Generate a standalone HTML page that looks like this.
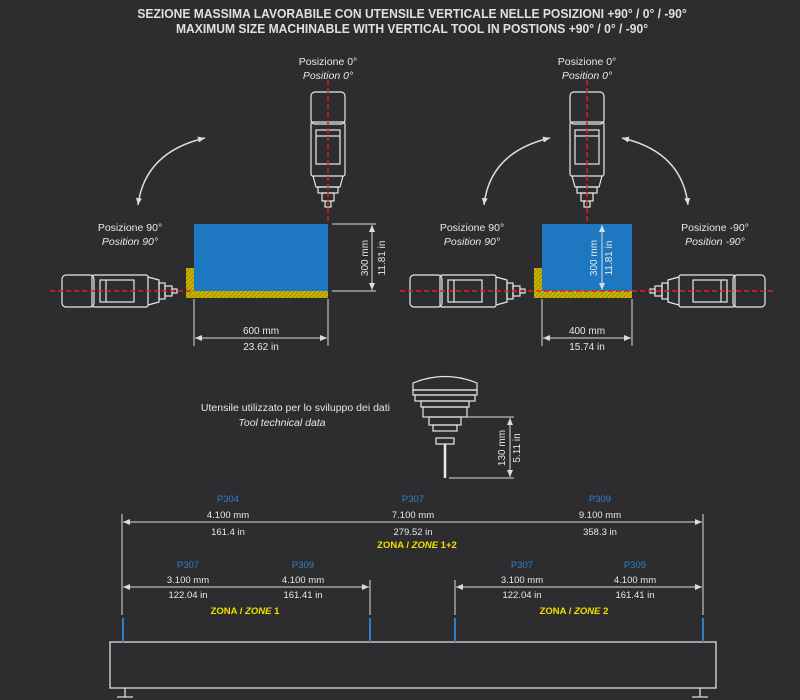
<!DOCTYPE html>
<html><head><meta charset="utf-8"><style>
html,body{margin:0;padding:0;background:#2d2d2f;}
svg{display:block;font-family:"Liberation Sans",sans-serif;}
</style></head><body>
<svg width="800" height="700" viewBox="0 0 800 700">
<defs>
<pattern id="hatch" width="3" height="3" patternUnits="userSpaceOnUse" patternTransform="rotate(45)">
<rect width="3" height="3" fill="#c8b400"/><line x1="0" y1="0" x2="0" y2="3" stroke="#7a6d00" stroke-width="1"/></pattern>
<marker id="ar" markerWidth="8" markerHeight="8" refX="7" refY="4" orient="auto" markerUnits="userSpaceOnUse"><path d="M0,1 L7,4 L0,7z" fill="#ddd"/></marker>
<marker id="al" markerWidth="8" markerHeight="8" refX="1" refY="4" orient="auto" markerUnits="userSpaceOnUse"><path d="M8,1 L1,4 L8,7z" fill="#ddd"/></marker>
<g id="vtool" fill="none" stroke="#e8e8e8" stroke-width="1.2">
<rect x="-17" y="0" width="34" height="32" rx="4"/>
<rect x="-17" y="30" width="34" height="54" rx="2"/>
<rect x="-12" y="38" width="24" height="34"/>
<line x1="-12" y1="44" x2="12" y2="44"/>
<path d="M-15,84 L-12,95 L12,95 L15,84"/>
<rect x="-10" y="95" width="20" height="6"/>
<rect x="-6" y="101" width="12" height="8"/>
<rect x="-3" y="109" width="6" height="6"/>
</g>
<g id="htool" fill="none" stroke="#e8e8e8" stroke-width="1.2">
<rect x="0" y="-16" width="32" height="32" rx="4"/>
<rect x="30" y="-16" width="56" height="32" rx="2"/>
<rect x="38" y="-11" width="34" height="22"/>
<line x1="44" y1="-11" x2="44" y2="11"/>
<path d="M86,-14 L97,-11 L97,11 L86,14"/>
<rect x="97" y="-8" width="6" height="16"/>
<rect x="103" y="-5" width="7" height="10"/>
<rect x="110" y="-2" width="5" height="4"/>
</g>
</defs>

<g fill="#e0e0e0" font-size="13" font-weight="bold" text-anchor="middle" transform="translate(412,0) scale(0.93,1)">
<text x="0" y="18">SEZIONE MASSIMA LAVORABILE CON UTENSILE VERTICALE NELLE POSIZIONI +90° / 0° / -90°</text>
<text x="0" y="33">MAXIMUM SIZE MACHINABLE WITH VERTICAL TOOL IN POSTIONS +90° / 0° / -90°</text>
</g>

<!-- LEFT DIAGRAM -->
<g font-size="10.5" fill="#e8e8e8" text-anchor="middle">
<text x="328" y="65">Posizione 0°</text><text x="328" y="79" font-style="italic">Position 0°</text>
<text x="130" y="231">Posizione 90°</text><text x="130" y="245" font-style="italic">Position 90°</text>
</g>
<path d="M138,205 Q145,152 205,138" fill="none" stroke="#ddd" stroke-width="1.5" marker-end="url(#ar)" marker-start="url(#al)"/>
<rect x="194" y="224" width="134" height="67" fill="#1d78c1"/>
<rect x="194" y="291" width="134" height="7" fill="url(#hatch)"/>
<rect x="186" y="268" width="8" height="30" fill="url(#hatch)"/>
<use href="#vtool" x="328" y="92"/>
<use href="#htool" x="62" y="291"/>
<line x1="328" y1="80" x2="328" y2="224" stroke="#e02020" stroke-width="1.5" stroke-dasharray="5,3"/>
<line x1="50" y1="291" x2="194" y2="291" stroke="#e02020" stroke-width="1.5" stroke-dasharray="5,3"/>
<g stroke="#ddd" stroke-width="1" fill="none">
<line x1="332" y1="224" x2="376" y2="224"/><line x1="332" y1="291" x2="376" y2="291"/>
<line x1="372" y1="225" x2="372" y2="290" marker-start="url(#al)" marker-end="url(#ar)"/>
<line x1="194" y1="299" x2="194" y2="346"/><line x1="328" y1="299" x2="328" y2="346"/>
<line x1="195" y1="338" x2="327" y2="338" marker-start="url(#al)" marker-end="url(#ar)"/>
</g>
<g font-size="10" fill="#e8e8e8" text-anchor="middle">
<text transform="translate(368,258) rotate(-90)">300 mm</text>
<text transform="translate(385,258) rotate(-90)">11.81 in</text>
<text x="261" y="334">600 mm</text><text x="261" y="350">23.62 in</text>
</g>

<!-- RIGHT DIAGRAM -->
<g font-size="10.5" fill="#e8e8e8" text-anchor="middle">
<text x="587" y="65">Posizione 0°</text><text x="587" y="79" font-style="italic">Position 0°</text>
<text x="472" y="231">Posizione 90°</text><text x="472" y="245" font-style="italic">Position 90°</text>
<text x="715" y="231">Posizione -90°</text><text x="715" y="245" font-style="italic">Position -90°</text>
</g>
<path d="M484,205 Q490,152 550,138" fill="none" stroke="#ddd" stroke-width="1.5" marker-end="url(#ar)" marker-start="url(#al)"/>
<path d="M622,138 Q682,152 688,205" fill="none" stroke="#ddd" stroke-width="1.5" marker-end="url(#ar)" marker-start="url(#al)"/>
<rect x="542" y="224" width="90" height="67" fill="#1d78c1"/>
<rect x="542" y="291" width="90" height="7" fill="url(#hatch)"/>
<rect x="534" y="268" width="8" height="30" fill="url(#hatch)"/>
<use href="#vtool" x="587" y="92"/>
<use href="#htool" x="410" y="291"/>
<use href="#htool" transform="translate(765,291) scale(-1,1)"/>
<line x1="587" y1="80" x2="587" y2="224" stroke="#e02020" stroke-width="1.5" stroke-dasharray="5,3"/>
<line x1="400" y1="291" x2="775" y2="291" stroke="#e02020" stroke-width="1.5" stroke-dasharray="5,3"/>
<g stroke="#ddd" stroke-width="1" fill="none">
<line x1="602" y1="225" x2="602" y2="290" marker-start="url(#al)" marker-end="url(#ar)"/>
<line x1="542" y1="299" x2="542" y2="346"/><line x1="632" y1="299" x2="632" y2="346"/>
<line x1="543" y1="338" x2="631" y2="338" marker-start="url(#al)" marker-end="url(#ar)"/>
</g>
<g font-size="10" fill="#e8e8e8" text-anchor="middle">
<text transform="translate(597,258) rotate(-90)">300 mm</text>
<text transform="translate(612,258) rotate(-90)">11.81 in</text>
<text x="587" y="334">400 mm</text><text x="587" y="350">15.74 in</text>
</g>

<!-- TOOL DATA -->
<g font-size="10.5" fill="#e8e8e8">
<text x="390" y="411" text-anchor="end">Utensile utilizzato per lo sviluppo dei dati</text>
<text x="282" y="426" text-anchor="middle" font-style="italic">Tool technical data</text>
</g>
<g fill="none" stroke="#e8e8e8" stroke-width="1.2">
<path d="M413,390 L413,383 Q445,370 477,383 L477,390z"/>
<rect x="413" y="390" width="64" height="5"/>
<rect x="415" y="395" width="60" height="6"/>
<rect x="421" y="401" width="48" height="6"/>
<rect x="423" y="407" width="44" height="10"/>
<rect x="429" y="417" width="32" height="8"/>
<rect x="433" y="425" width="24" height="6"/>
<rect x="436" y="438" width="18" height="6"/>
<line x1="445" y1="444" x2="445" y2="478" stroke-width="2.5"/>
</g>
<g stroke="#ddd" stroke-width="1" fill="none">
<line x1="465" y1="417" x2="514" y2="417"/><line x1="449" y1="478" x2="514" y2="478"/>
<line x1="510" y1="418" x2="510" y2="477" marker-start="url(#al)" marker-end="url(#ar)"/>
</g>
<g font-size="10" fill="#e8e8e8" text-anchor="middle">
<text transform="translate(505,448) rotate(-90)">130 mm</text>
<text transform="translate(520,448) rotate(-90)">5.11 in</text>
</g>

<!-- BOTTOM -->
<g stroke="#ddd" stroke-width="1" fill="none">
<line x1="122" y1="514" x2="122" y2="615"/><line x1="703" y1="514" x2="703" y2="615"/>
<line x1="370" y1="580" x2="370" y2="615"/><line x1="455" y1="580" x2="455" y2="615"/>
<line x1="123" y1="522" x2="702" y2="522" marker-start="url(#al)" marker-end="url(#ar)"/>
<line x1="123" y1="587" x2="369" y2="587" marker-start="url(#al)" marker-end="url(#ar)"/>
<line x1="456" y1="587" x2="702" y2="587" marker-start="url(#al)" marker-end="url(#ar)"/>
<rect x="110" y="642" width="606" height="46" stroke-width="1.3"/>
<path d="M125,688 V697 M117,697 H133 M700,688 V697 M692,697 H708" stroke-width="1.3"/>
</g>
<g stroke="#2f7fc8" stroke-width="2">
<line x1="123" y1="618" x2="123" y2="642"/><line x1="370" y1="618" x2="370" y2="642"/>
<line x1="455" y1="618" x2="455" y2="642"/><line x1="703" y1="618" x2="703" y2="642"/>
</g>
<g font-size="9.5" text-anchor="middle">
<g fill="#2f7fc8">
<text x="228" y="502">P304</text><text x="413" y="502">P307</text><text x="600" y="502">P309</text>
<text x="188" y="568">P307</text><text x="303" y="568">P309</text>
<text x="522" y="568">P307</text><text x="635" y="568">P309</text>
</g>
<g fill="#e8e8e8">
<text x="228" y="518">4.100 mm</text><text x="413" y="518">7.100 mm</text><text x="600" y="518">9.100 mm</text>
<text x="228" y="535">161.4 in</text><text x="413" y="535">279.52 in</text><text x="600" y="535">358.3 in</text>
<text x="188" y="583">3.100 mm</text><text x="303" y="583">4.100 mm</text>
<text x="188" y="598">122.04 in</text><text x="303" y="598">161.41 in</text>
<text x="522" y="583">3.100 mm</text><text x="635" y="583">4.100 mm</text>
<text x="522" y="598">122.04 in</text><text x="635" y="598">161.41 in</text>
</g>
<g fill="#f0e000" font-weight="bold">
<text x="417" y="548">ZONA / <tspan font-style="italic">ZONE</tspan> 1+2</text>
<text x="245" y="614">ZONA / <tspan font-style="italic">ZONE</tspan> 1</text>
<text x="574" y="614">ZONA / <tspan font-style="italic">ZONE</tspan> 2</text>
</g>
</g>
</svg>
</body></html>
